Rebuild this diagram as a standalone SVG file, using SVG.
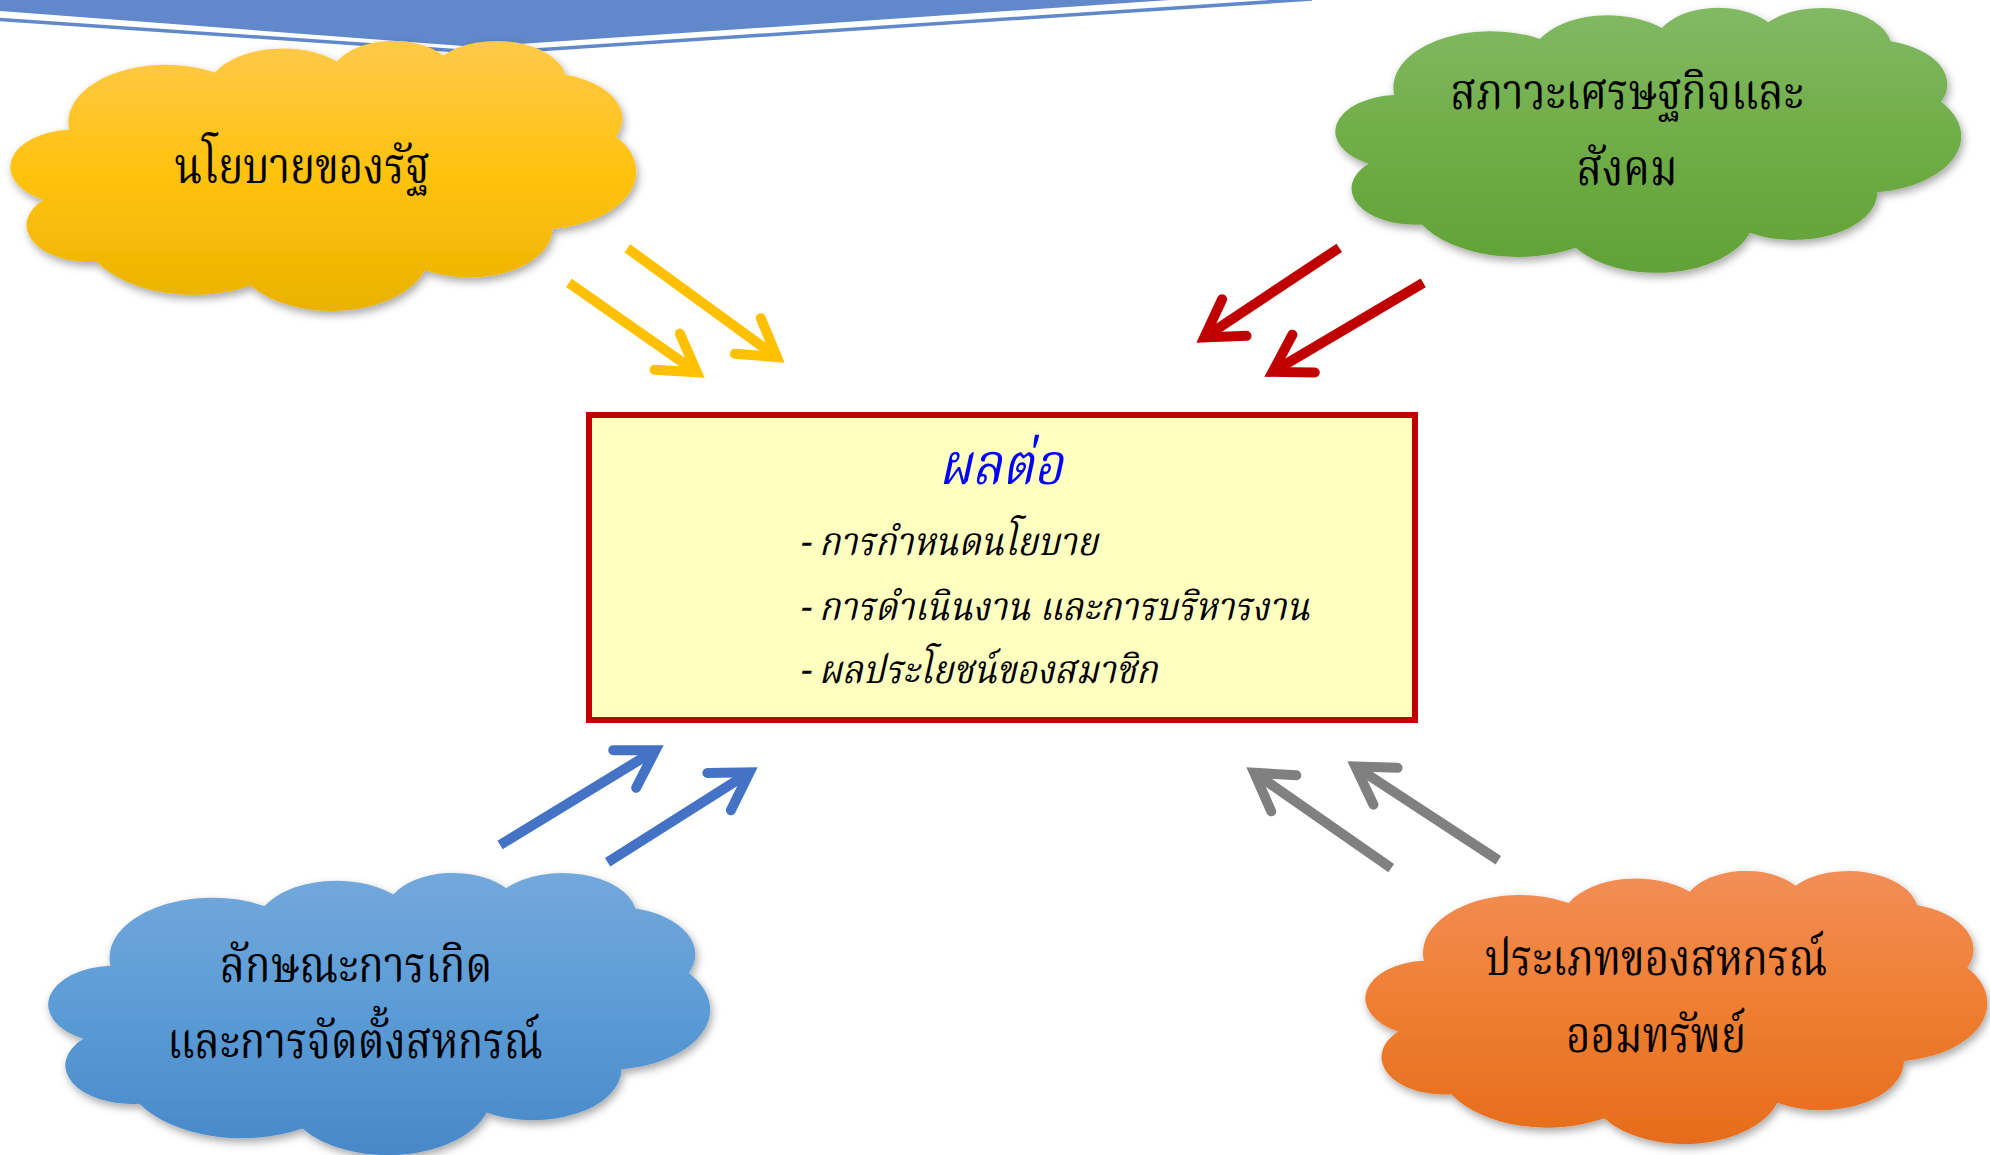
<svg xmlns="http://www.w3.org/2000/svg" width="1990" height="1155" viewBox="0 0 1990 1155">
<style>
.thai{font-family:"Noto Serif Thai","Liberation Serif","Noto Sans",serif;fill:#000}
.cl{font-size:42px;text-anchor:middle}
.bx{font-size:35px;font-style:italic}
.ttl{font-size:50px;font-style:italic;fill:#0000FF;text-anchor:middle}
.sh{fill:none;stroke-width:10;stroke-linecap:butt}
.hd{fill:none;stroke-width:10;stroke-linecap:round;stroke-linejoin:miter;stroke-miterlimit:10}
.yel{stroke:#FFC000}.red{stroke:#C00000}.blu{stroke:#4472C4}.gry{stroke:#808080}
</style>
<defs>
<path id="cloud" d="M3900 14370A6753 9190 0 0 1 14005.7 5202.3A5333 7267 0 0 1 22458.5 3433.6A4365 5945 0 0 1 29836 2482.9A4857 6595 0 0 1 38321.2 5578.2A5333 7273 0 0 1 41821.4 15461.8A6775 9220 0 0 1 37406.4 30203.3A5785 7867 0 0 1 28557.9 36813.5A6752 9215 0 0 1 16484.1 39268.9A7720 10543 0 0 1 5806.7 35472.9A4360 5918 0 0 1 2115.1 25551.5A4345 5945 0 0 1 3900 14370Z"/>
<linearGradient id="gY" x1="0" y1="0" x2="0" y2="1"><stop offset="0" stop-color="#FFC94A"/><stop offset="0.5" stop-color="#FFC20E"/><stop offset="1" stop-color="#EAB200"/></linearGradient>
<linearGradient id="gG" x1="0" y1="0" x2="0" y2="1"><stop offset="0" stop-color="#82B964"/><stop offset="0.5" stop-color="#70AD47"/><stop offset="1" stop-color="#61A236"/></linearGradient>
<linearGradient id="gB" x1="0" y1="0" x2="0" y2="1"><stop offset="0" stop-color="#73A8DC"/><stop offset="0.5" stop-color="#5B9BD5"/><stop offset="1" stop-color="#4788C9"/></linearGradient>
<linearGradient id="gO" x1="0" y1="0" x2="0" y2="1"><stop offset="0" stop-color="#F28E57"/><stop offset="0.5" stop-color="#EF7E31"/><stop offset="1" stop-color="#E56C1B"/></linearGradient>
<filter id="shd" x="-10%" y="-10%" width="120%" height="125%"><feDropShadow dx="2" dy="4" stdDeviation="4" flood-color="#000" flood-opacity="0.35"/></filter>
<g id="head"><path class="hd" d="M-46 -22L-10 0L-46 22"/></g>
</defs>

<g id="banner">
<polygon points="0,0 1170,0 476,47 0,11" fill="#6088CB"/>
<polyline points="0,19.5 490,53 1312,-1" fill="none" stroke="#6088CB" stroke-width="3.5"/>
</g>

<g id="node-policy" filter="url(#shd)">
<use href="#cloud" fill="url(#gY)" transform="translate(13 40) scale(0.01442 0.00625)"/>
</g>
<g id="node-policy-text"><text class="thai cl" transform="translate(302 183) scale(1 1.18)">นโยบายของรัฐ</text></g>

<g id="node-economy" filter="url(#shd)">
<use href="#cloud" fill="url(#gG)" transform="translate(1338 7) scale(0.01442 0.00613)"/>
</g>
<g id="node-economy-text"><text class="thai cl" transform="translate(1627 109) scale(1 1.18)">สภาวะเศรษฐกิจและ</text><text class="thai cl" transform="translate(1627 185) scale(1 1.18)">สังคม</text></g>

<g id="node-origin" filter="url(#shd)">
<use href="#cloud" fill="url(#gB)" transform="translate(51 872) scale(0.01525 0.00653)"/>
</g>
<g id="node-origin-text"><text class="thai cl" transform="translate(356 982) scale(1 1.18)">ลักษณะการเกิด</text><text class="thai cl" transform="translate(355 1058) scale(1 1.18)">และการจัดตั้งสหกรณ์</text></g>

<g id="node-type" filter="url(#shd)">
<use href="#cloud" fill="url(#gO)" transform="translate(1368 870) scale(0.01433 0.00632)"/>
</g>
<g id="node-type-text"><text class="thai cl" transform="translate(1656 975) scale(1 1.18)">ประเภทของสหกรณ์</text><text class="thai cl" transform="translate(1656 1052) scale(1 1.18)">ออมทรัพย์</text></g>

<g id="node-effect">
<rect x="589" y="415" width="826" height="305" fill="#FFFFC0" stroke="#C00000" stroke-width="6"/>
<text class="thai ttl" transform="translate(1001 484) scale(1 1.15)">ผลต่อ</text>
<text class="thai bx" transform="translate(799 555) scale(1 1.12)">- การกำหนดนโยบาย</text>
<text class="thai bx" transform="translate(799 620) scale(1 1.12)">- การดำเนินงาน และการบริหารงาน</text>
<text class="thai bx" transform="translate(799 683) scale(1 1.12)">- ผลประโยชน์ของสมาชิก</text>
</g>

<g id="connectors">
<g class="yel" transform="translate(705 378) rotate(34.93)"><path class="sh" d="M-166 0L-12 0"/><use href="#head"/></g>
<g class="yel" transform="translate(785 363) rotate(36.05)"><path class="sh" d="M-195 0L-12 0"/><use href="#head"/></g>
<g class="red" transform="translate(1196 343) rotate(146.4)"><path class="sh" d="M-172 0L-12 0"/><use href="#head"/></g>
<g class="red" transform="translate(1264 377) rotate(149.4)"><path class="sh" d="M-185 0L-12 0"/><use href="#head"/></g>
<g class="blu" transform="translate(664 745) rotate(-31.37)"><path class="sh" d="M-192 0L-12 0"/><use href="#head"/></g>
<g class="blu" transform="translate(758 767) rotate(-32.35)"><path class="sh" d="M-178 0L-12 0"/><use href="#head"/></g>
<g class="gry" transform="translate(1246 767) rotate(-145.14)"><path class="sh" d="M-177 0L-12 0"/><use href="#head"/></g>
<g class="gry" transform="translate(1347 761) rotate(-146.75)"><path class="sh" d="M-181 0L-12 0"/><use href="#head"/></g>
</g>
</svg>
